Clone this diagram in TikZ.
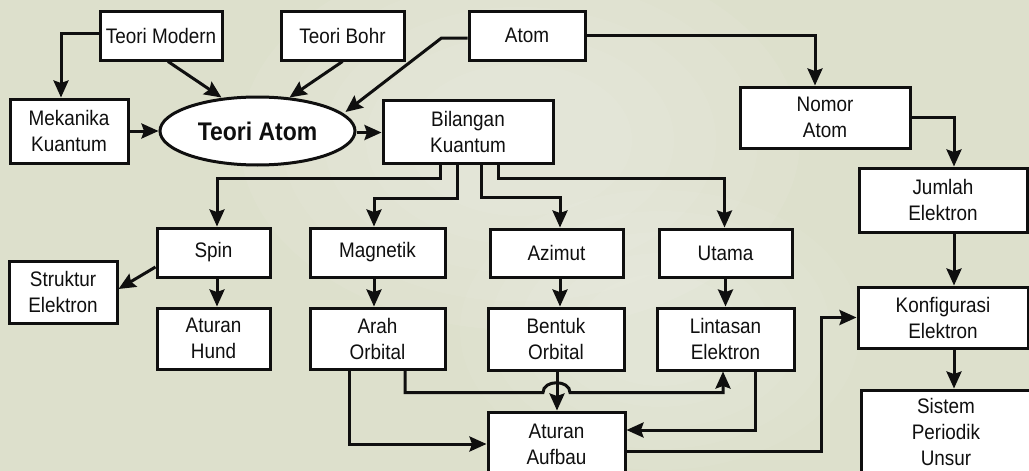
\documentclass[tikz,border=0pt]{standalone}
\usepackage{fontspec}
\setmainfont{Liberation Sans}[FakeStretch=0.9]
\usetikzlibrary{arrows.meta,shapes.geometric,calc}
\definecolor{bg}{RGB}{221,224,204}
\definecolor{ink}{RGB}{15,15,15}
\begin{document}
\begin{tikzpicture}[x=1pt,y=-1pt,
  box/.style={draw=ink, line width=3pt, fill=white, inner sep=0pt, align=center, text=ink,
    font=\fontsize{21}{26}\selectfont},
  conn/.style={draw=ink, line width=3pt, -{Stealth[length=17pt,width=15pt,inset=2.5pt]}},
  plainline/.style={draw=ink, line width=3pt}]
\useasboundingbox (0,0) rectangle (1029,471);
\clip (0,0) rectangle (1029,471);
\fill[bg] (0,0) rectangle (1029,471);
% soft lighter areas of the background
\foreach \r in {1,0.85,0.7,0.55,0.4}{
  \fill[white, opacity=0.06] (520,140) ellipse[x radius=280*\r, y radius=190*\r];
  \fill[white, opacity=0.05] (660,330) ellipse[x radius=200*\r, y radius=140*\r];
}

% nodes
\node[box, minimum width=122pt, minimum height=49pt] (tm) at (161,35.5) {Teori Modern};
\node[box, minimum width=123pt, minimum height=49pt] (tb) at (342.5,35.5) {Teori Bohr};
\node[box, minimum width=116pt, minimum height=49pt] (atom) at (527,35.5) {Atom};
\node[box, minimum width=118pt, minimum height=64pt] (mk) at (69,131) {Mekanika\\Kuantum};
\node[box, ellipse, minimum width=195pt, minimum height=68pt,
      font=\fontsize{25.5}{30}\selectfont\bfseries] (ta) at (257.5,131) {Teori Atom};
\node[box, minimum width=170pt, minimum height=63pt] (bk) at (468,131.5) {Bilangan\\Kuantum};
\node[box, minimum width=170pt, minimum height=61pt] (na) at (825,117.5) {Nomor\\Atom};
\node[box, minimum width=168pt, minimum height=64pt] (je) at (943,200) {Jumlah\\Elektron};
\node[box, minimum width=113pt, minimum height=49pt] (spin) at (213.5,252.5) {Spin};
\node[box, minimum width=135pt, minimum height=49pt] (mag) at (377.5,252.5) {Magnetik};
\node[box, minimum width=133pt, minimum height=48pt] (azi) at (556.5,253) {Azimut};
\node[box, minimum width=133pt, minimum height=48pt] (uta) at (725.5,253) {Utama};
\node[box, minimum width=108pt, minimum height=62pt] (se) at (63,292) {Struktur\\Elektron};
\node[box, minimum width=113pt, minimum height=61pt] (ah) at (213.5,338.5) {Aturan\\Hund};
\node[box, minimum width=135pt, minimum height=61pt] (ao) at (377.5,338.5) {Arah\\Orbital};
\node[box, minimum width=136pt, minimum height=62pt] (bo) at (556,339) {Bentuk\\Orbital};
\node[box, minimum width=137pt, minimum height=62pt] (le) at (725.5,339) {Lintasan\\Elektron};
\node[box, minimum width=137pt, minimum height=64pt] (aa) at (556.5,444) {Aturan\\Aufbau};
\node[box, minimum width=170pt, minimum height=84pt] (sp) at (946,432) {Sistem\\Periodik\\Unsur};

\node[box, minimum width=170pt, minimum height=61pt] (ke) at (943,317.5) {Konfigurasi\\Elektron};

% connectors, top part
\draw[conn] ($(tm.west)+(0,-2)$) -| ($(mk.north)+(-8,0)$);
\draw[conn] ($(tm.south)+(7,0)$) -- ($(ta.north)+(-36,2)$);
\draw[conn] ($(tb.south)+(0,0)$) -- ($(ta.north)+(32,2)$);
\draw[conn] ($(atom.west)+(0,2.5)$) -- ($(atom.west)+(-26,2.5)$) -- ($(ta.center)+(88,-19)$);
\draw[conn] (mk.east) -- (ta.west);
\draw[conn] ($(ta.east)+(0,1.5)$) -- ($(bk.west)+(0,1)$);
\draw[conn] (atom.east) -| ($(na.north)+(-10,0)$);
\draw[conn] (na.east) -| ($(je.north)+(11,0)$);
\draw[conn] ($(je.south)+(11,0)$) -- ($(ke.north)+(11,0)$);
\draw[conn] ($(ke.south)+(11,0)$) -- ($(sp.north)+(8,0)$);

% Bilangan Kuantum branches
\draw[conn] ($(bk.south)+(-28,0)$) -- ++(0,14) -| ($(spin.north)+(3.5,0)$);
\draw[conn] ($(bk.south)+(-11,0)$) -- ++(0,34) -| ($(mag.north)+(-3.5,0)$);
\draw[conn] ($(bk.south)+(13,0)$) -- ++(0,33) -| ($(azi.north)+(3.5,0)$);
\draw[conn] ($(bk.south)+(30,0)$) -- ++(0,14) -| ($(uta.north)+(-1,0)$);

% second level
\draw[conn] ($(spin.south)+(3.5,0)$) -- ($(ah.north)+(3.5,0)$);
\draw[conn] ($(spin.west)+(0,14.5)$) -- ($(se.east)+(0,-3)$);
\draw[conn] ($(mag.south)+(-3.5,0)$) -- ($(ao.north)+(-3.5,0)$);
\draw[conn] ($(azi.south)+(3.5,0)$) -- ($(bo.north)+(4,0)$);
\draw[conn] (uta.south) -- (le.north);

% third level
\draw[conn] ($(bo.south)+(1,0)$) -- ($(aa.north)+(0.5,0)$);
\draw[conn] ($(ao.south)+(-28.5,0)$) |- (aa.west);
\path ($(ao.south)+(27.5,22)$) coordinate (h1);
\draw[conn] (h1 |- ao.south) -- (h1)
  -- ($(h1 -| bo.south)+(-13,0)$)
  .. controls ($(h1 -| bo.south)+(-13,-13)$) and ($(h1 -| bo.south)+(14,-13)$) .. ($(h1 -| bo.south)+(14,0)$)
  -- ($(h1 -| le.south)+(-2.5,0)$) -- ($(le.south)+(-2.5,0)$);
\draw[conn] ($(le.south)+(30,0)$) |- ($(aa.east)+(0,-14)$);
\draw[conn] ($(aa.east)+(0,7)$) -| ($(ke.west)+(-35,0)$) -- (ke.west);
\end{tikzpicture}
\end{document}
